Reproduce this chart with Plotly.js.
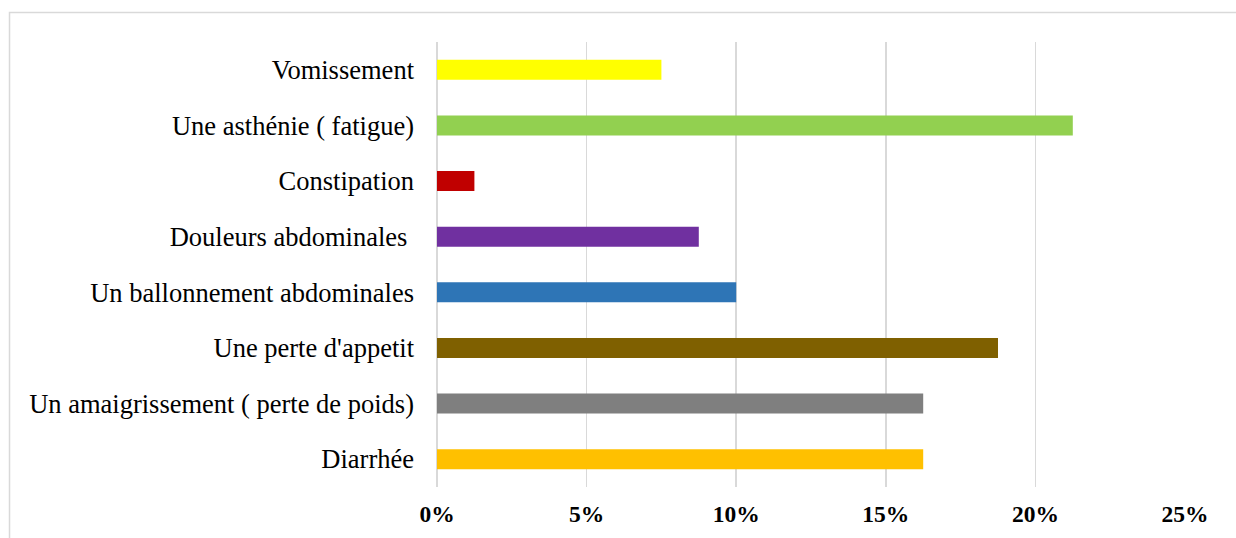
<!DOCTYPE html>
<html>
<head>
<meta charset="utf-8">
<script src="https://cdn.plot.ly/plotly-3.0.1.min.js"></script>
<style>
  html, body { margin: 0; padding: 0; background: #fff; }
  #chart { width: 1236px; height: 538px; }
</style>
</head>
<body>
<div id="chart"></div>
<script>
// Categories listed bottom-to-top (Plotly draws the first category at the bottom)
const categories = [
  "Diarrhée",
  "Un amaigrissement ( perte de poids)",
  "Une perte d'appetit",
  "Un ballonnement abdominales",
  "Douleurs abdominales\u00a0",
  "Constipation",
  "Une asthénie ( fatigue)",
  "Vomissement"
];
const percentages = [16.25, 16.25, 18.75, 10, 8.75, 1.25, 21.25, 7.5];
const barColors = ["#FFC000", "#7F7F7F", "#7F6000", "#2E75B6", "#7030A0", "#C00000", "#92D050", "#FFFF00"];
const tickValues = [0, 5, 10, 15, 20, 25];
const tickLabels = ["0%", "5%", "10%", "15%", "20%", "25%"];

const SERIF = "'Liberation Serif', 'Times New Roman', Times, serif";

const trace = {
  type: "bar",
  orientation: "h",
  y: categories,
  x: percentages,
  marker: { color: barColors, line: { width: 0 } },
  hoverinfo: "y+x"
};

const layout = {
  width: 1236,
  height: 538,
  margin: { l: 437, r: 51, t: 42, b: 51 },
  paper_bgcolor: "#ffffff",
  plot_bgcolor: "#ffffff",
  showlegend: false,
  bargap: 0.64,
  font: { family: SERIF, color: "#000000" },
  xaxis: {
    range: [0, 25],
    tickvals: tickValues,
    ticktext: tickLabels,
    showgrid: true,
    gridcolor: "#D9D9D9",
    gridwidth: 1.6,
    zeroline: true,
    zerolinecolor: "#D9D9D9",
    zerolinewidth: 1.6,
    showline: false,
    ticks: "",
    ticklabelstandoff: 10,
    tickfont: { family: SERIF, size: 23.5, color: "#000000", weight: 700 },
    fixedrange: true
  },
  yaxis: {
    type: "category",
    categoryorder: "array",
    categoryarray: categories,
    showgrid: false,
    zeroline: false,
    showline: false,
    ticks: "",
    ticklabelstandoff: 22,
    tickfont: { family: SERIF, size: 26.5, color: "#000000" },
    fixedrange: true
  },
  shapes: [
    {
      type: "rect",
      xref: "paper", yref: "paper",
      x0: -0.5715, x1: 1.2,
      y0: -0.3, y1: 1.0663,
      line: { color: "#D9D9D9", width: 1.5 },
      fillcolor: "rgba(0,0,0,0)",
      layer: "below"
    }
  ]
};

Plotly.newPlot("chart", [trace], layout, { displayModeBar: false, staticPlot: true });
</script>
</body>
</html>
